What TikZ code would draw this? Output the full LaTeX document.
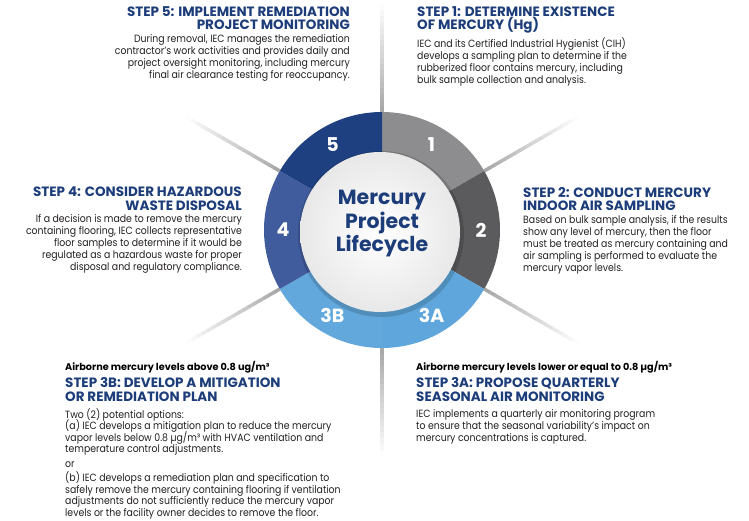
\documentclass[tikz,border=0pt]{standalone}
\usepackage{fontspec}
\setmainfont{Poppins}
\newfontfamily\bodyfont{Poppins}[FakeStretch=0.89]
\usetikzlibrary{positioning}
\definecolor{navy}{HTML}{1C3D7A}
\definecolor{segone}{HTML}{8D8D8F}
\definecolor{segtwo}{HTML}{5B5B5D}
\definecolor{segthreea}{HTML}{5EA6DB}
\definecolor{segthreeb}{HTML}{62A8DC}
\definecolor{segfour}{HTML}{405C9D}
\definecolor{segfive}{HTML}{1E4080}
\definecolor{bodytext}{HTML}{231F20}
\newcommand{\tightlines}{\lineskiplimit=-20pt\relax}

\begin{document}
\begin{tikzpicture}[x=1pt, y=1pt,
    head/.style={font=\fontsize{13.5}{13.5}\selectfont\bfseries\tightlines, text=navy, inner sep=0pt},
    body/.style={font=\bodyfont\fontsize{10.5}{12}\selectfont\tightlines, text=bodytext, inner sep=0pt},
    note/.style={font=\fontsize{9.7}{11}\selectfont\bfseries, text=black, inner sep=0pt},
    num/.style={font=\fontsize{19}{19}\selectfont\bfseries, text=white, inner sep=0pt}]
    \useasboundingbox (0,0) rectangle (749,-521);
    \coordinate (c) at (382,-230);
    \coordinate (ci) at (380,-232);

    % spokes
    \foreach \a in {30,90,150,210,270,330}{
        \foreach \i in {0,...,17}{
            \pgfmathtruncatemacro{\s}{34-1.9*\i}
            \draw[black!\s, line width=3.5pt] ([shift={(\a:{118+6*\i})}]c) -- ([shift={(\a:{124.5+6*\i})}]c);
        }
    }

    % ring
    \foreach \a/\col in {30/segone, -30/segtwo, -90/segthreea, -150/segthreeb, 150/segfour, 90/segfive}
        \fill[\col] (c) -- ++(\a:118) arc[start angle=\a, delta angle=60, radius=118] -- cycle;
    \fill[black, opacity=0.15] ([shift={(1,-2)}]ci) circle (83);
    \shade[inner color=white, outer color=black!9] (ci) circle (80);

    \node[font=\fontsize{20.5}{23.5}\selectfont\bfseries, text=navy, align=center] (title) at (382,-224) {Mercury\\Project\\Lifecycle};

    \foreach \a/\t in {120/5, 60/1, 0/2, -60/3A, -120/3B, 180/4}
        \node[num] (n\t) at ([shift={(\a:99)}]c) {\t};

    % step 5
    \node[head, anchor=north east, align=right] (s5head) at (350,-6) {STEP 5: IMPLEMENT REMEDIATION\\PROJECT MONITORING};
    \node[body, align=right, below=4pt of s5head.south east, anchor=north east] (s5body) {During removal, IEC manages the remediation\\contractor’s work activities and provides daily and\\project oversight monitoring, including mercury\\final air clearance testing for reoccupancy.};

    % step 1
    \node[head, anchor=north west, align=left] (s1head) at (417,-6) {STEP 1: DETERMINE EXISTENCE\\OF MERCURY (Hg)};
    \node[body, align=left, below=4pt of s1head.south west, anchor=north west] (s1body) {IEC and its Certified Industrial Hygienist (CIH)\\develops a sampling plan to determine if the\\rubberized floor contains mercury, including\\bulk sample collection and analysis.};

    % step 4
    \node[head, anchor=north east, align=right] (s4head) at (242,-187) {STEP 4: CONSIDER HAZARDOUS\\WASTE DISPOSAL};
    \node[body, align=right, below=4pt of s4head.south east, anchor=north east] (s4body) {If a decision is made to remove the mercury\\containing flooring, IEC collects representative\\floor samples to determine if it would be\\regulated as a hazardous waste for proper\\disposal and regulatory compliance.};

    % step 2
    \node[head, anchor=north west, align=left] (s2head) at (523,-187) {STEP 2: CONDUCT MERCURY\\INDOOR AIR SAMPLING};
    \node[body, align=left, below=4pt of s2head.south west, anchor=north west] (s2body) {Based on bulk sample analysis, if the results\\show any level of mercury, then the floor\\must be treated as mercury containing and\\air sampling is performed to evaluate the\\mercury vapor levels.};

    % step 3B
    \node[note, anchor=north west] (s3bnote) at (65,-361) {Airborne mercury levels above 0.8 ug/m³};
    \node[head, align=left, below=4pt of s3bnote.south west, anchor=north west] (s3bhead) {STEP 3B: DEVELOP A MITIGATION\\OR REMEDIATION PLAN};
    \node[body, font=\bodyfont\fontsize{10.5}{11.4}\selectfont\tightlines, align=left, below=7pt of s3bhead.south west, anchor=north west] (s3bbody) {Two (2) potential options:\\(a) IEC develops a mitigation plan to reduce the mercury\\vapor levels below 0.8 µg/m³ with HVAC ventilation and\\temperature control adjustments.\\[3.5pt]or\\[3pt](b) IEC develops a remediation plan and specification to\\safely remove the mercury containing flooring if ventilation\\adjustments do not sufficiently reduce the mercury vapor\\levels or the facility owner decides to remove the floor.};

    % step 3A
    \node[note, anchor=north west] (s3anote) at (416,-361) {Airborne mercury levels lower or equal to 0.8 µg/m³};
    \node[head, align=left, below=4pt of s3anote.south west, anchor=north west] (s3ahead) {STEP 3A: PROPOSE QUARTERLY\\SEASONAL AIR MONITORING};
    \node[body, align=left, below=8pt of s3ahead.south west, anchor=north west] (s3abody) {IEC implements a quarterly air monitoring program\\to ensure that the seasonal variability’s impact on\\mercury concentrations is captured.};
\end{tikzpicture}
\end{document}
